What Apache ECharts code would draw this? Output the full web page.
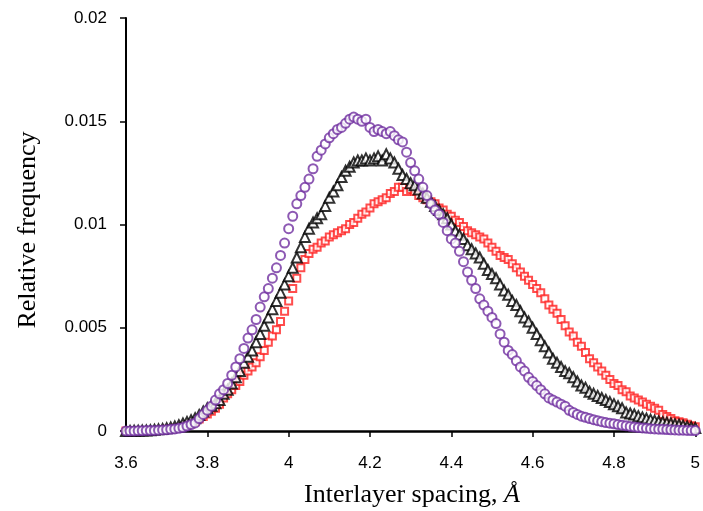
<!DOCTYPE html>
<html>
<head>
<meta charset="utf-8">
<script src="https://cdn.jsdelivr.net/npm/echarts@6/dist/echarts.min.js"></script>
<style>html,body{margin:0;padding:0;background:#fff}#c{width:703px;height:511px}</style>
</head>
<body>
<div id="c"></div>
<script>
// x positions: 3.60 .. 5.00, step 0.01
const xStart = 3.6, xStep = 0.01;
const xTicks = ['3.6','3.8','4','4.2','4.4','4.6','4.8','5'];
const yTicks = ['0','0.005','0.01','0.015','0.02'];

const redSeries = [
0,0,0,0.00001,0.00001,0.00002,0.00002,0.00003,0.00004,0.00006,
0.00008,0.0001,0.00013,0.00017,0.00022,0.00028,0.00035,0.00045,0.00058,0.0007,
0.00082,0.00096,0.0011,0.0013,0.0016,0.0018,0.0020,0.0022,0.0024,0.0027,
0.0029,0.0031,0.0033,0.0036,0.0039,0.0043,0.0046,0.0049,0.0053,0.0058,
0.0063,0.0069,0.0074,0.0079,0.0083,0.0086,0.0088,0.0089,0.0091,0.0092,
0.0094,0.0095,0.0096,0.0097,0.0098,0.0100,0.0101,0.0103,0.0105,0.0106,
0.0108,0.0110,0.0111,0.0112,0.0113,0.0115,0.0116,0.0118,0.0118,0.0116,
0.0117,0.0116,0.0114,0.0113,0.0112,0.0111,0.0110,0.0108,0.0107,0.0105,
0.0104,0.0102,0.0101,0.0099,0.0097,0.0096,0.0095,0.0094,0.0093,0.0091,
0.0089,0.0087,0.0085,0.0084,0.0083,0.0081,0.0079,0.0077,0.0075,0.0073,
0.0071,0.0069,0.0067,0.0064,0.0061,0.0059,0.0057,0.0054,0.0051,0.0048,
0.0046,0.0043,0.0041,0.0038,0.0035,0.0033,0.0031,0.0029,0.0027,0.0025,
0.0023,0.0022,0.0020,0.0019,0.0017,0.0016,0.0015,0.0014,0.0013,0.0012,
0.0011,0.0010,0.0008,0.0007,0.0006,0.0005,0.00045,0.0004,0.00033,0.00026,
0.0002
];

const blackSeries = [
0,0,0.00001,0.00001,0.00002,0.00003,0.00004,0.00006,0.00008,0.0001,
0.00013,0.00017,0.00022,0.00028,0.00036,0.00044,0.00052,0.00062,0.00078,0.00095,
0.0011,0.00122,0.00134,0.0015,0.0018,0.0020,0.0023,0.0026,0.0029,0.0033,
0.0036,0.0039,0.0043,0.0047,0.0051,0.0055,0.0059,0.0063,0.0067,0.0071,
0.0075,0.0079,0.0084,0.0089,0.0094,0.0098,0.0101,0.0103,0.0105,0.0109,
0.0113,0.0116,0.0119,0.0123,0.0126,0.0128,0.0130,0.0131,0.0131,0.0132,
0.0131,0.0132,0.0133,0.0131,0.0134,0.0132,0.0130,0.0127,0.0124,0.0122,
0.0120,0.0119,0.0117,0.0115,0.0113,0.0111,0.0109,0.0107,0.0105,0.0103,
0.0100,0.0097,0.0095,0.0093,0.0090,0.0088,0.0086,0.0084,0.0081,0.0078,
0.0076,0.0074,0.0071,0.0068,0.0066,0.0063,0.0061,0.0058,0.0055,0.0053,
0.0050,0.0047,0.0044,0.0041,0.0038,0.0035,0.0033,0.0031,0.0029,0.0028,
0.0026,0.0024,0.0022,0.0021,0.0019,0.0018,0.0017,0.0016,0.0015,0.0014,
0.0013,0.0012,0.0011,0.0009,0.00085,0.0008,0.00072,0.00066,0.0006,0.00055,
0.0005,0.00046,0.00043,0.0004,0.00036,0.00033,0.0003,0.00026,0.00022,0.00018,
0.00015
];

const purpleSeries = [
0,0,0,0.00001,0.00001,0.00002,0.00002,0.00003,0.00004,0.00005,
0.00006,0.00008,0.0001,0.00013,0.00017,0.00024,0.00031,0.00039,0.0006,0.0008,
0.0010,0.0012,0.0015,0.0018,0.0020,0.0023,0.0027,0.0031,0.0035,0.0040,
0.0045,0.0049,0.0054,0.0060,0.0065,0.0069,0.0074,0.0079,0.0085,0.0091,
0.0098,0.0104,0.0110,0.0114,0.0118,0.0122,0.0127,0.0133,0.0136,0.0139,
0.0142,0.0144,0.0146,0.0147,0.0149,0.0151,0.0152,0.0151,0.0150,0.0151,
0.0147,0.0145,0.0146,0.0145,0.0144,0.0145,0.0143,0.0141,0.0140,0.0135,
0.0130,0.0126,0.0122,0.0118,0.0114,0.0110,0.0107,0.0105,0.0101,0.0097,
0.0093,0.0091,0.0087,0.0082,0.0077,0.0073,0.0069,0.0064,0.0061,0.0058,
0.0055,0.0052,0.0047,0.0043,0.0039,0.0037,0.0034,0.0031,0.0029,0.0026,
0.0024,0.0022,0.0020,0.0018,0.0016,0.0015,0.0014,0.0013,0.0012,0.0010,
0.0009,0.0008,0.00072,0.00066,0.0006,0.00055,0.0005,0.00045,0.00041,0.00038,
0.00035,0.00031,0.00028,0.00025,0.00022,0.00019,0.00017,0.00015,0.00013,0.00011,
0.0001,0.00009,0.00008,0.00007,0.00006,0.00005,0.00004,0.00004,0.00003,0.00002,
0.00002
];

function pairs(vals){
  return vals.map((v,i)=>[+(xStart + i*xStep).toFixed(2), v]);
}

const chart = echarts.init(document.getElementById('c'), null, {renderer:'canvas'});
const labelFont = {fontFamily:'Liberation Sans, Arial, sans-serif', fontSize:17, color:'#000'};
const serif = 'Liberation Serif, Times New Roman, serif';
chart.setOption({
  animation:false,
  backgroundColor:'#fff',
  grid:{left:126, right:6, top:18, bottom:80, containLabel:false},
  xAxis:{
    type:'value', min:3.6, max:5, interval:0.2,
    axisLine:{show:true, onZero:false, lineStyle:{color:'#000', width:2.5}},
    axisTick:{show:true, inside:false, length:6, lineStyle:{color:'#000', width:1.5}},
    splitLine:{show:false},
    axisLabel:Object.assign({margin:24, formatter:(v)=>{const i=Math.round((v-3.6)/0.2); return xTicks[i]!==undefined?xTicks[i]:'';}}, labelFont)
  },
  yAxis:{
    type:'value', min:0, max:0.02, interval:0.005,
    axisLine:{show:true, lineStyle:{color:'#000', width:2}},
    axisTick:{show:true, inside:false, length:6, lineStyle:{color:'#000', width:1.5}},
    splitLine:{show:false},
    axisLabel:Object.assign({margin:19, formatter:(v)=>{const i=Math.round(v/0.005); return yTicks[i]!==undefined?yTicks[i]:'';}}, labelFont)
  },
  graphic:[
    {type:'text', x:412, y:495, style:{
      rich:{n:{fontFamily:serif, fontSize:26, fill:'#000'}, i:{fontFamily:serif, fontSize:26, fontStyle:'italic', fill:'#000'}},
      text:'{n|Interlayer spacing, }{i|Å}', align:'center', verticalAlign:'middle'}},
    {type:'text', x:28, y:230, rotation:Math.PI/2, style:{
      text:'Relative frequency', fontFamily:serif, fontSize:26, fill:'#000', align:'center', verticalAlign:'middle'}}
  ],
  series:[
    {type:'scatter', name:'red', data:pairs(redSeries), symbol:'emptyRect', symbolSize:7,
      itemStyle:{color:'#ff2020', borderColor:'#ff2020', borderWidth:1}, z:2},
    {type:'scatter', name:'black', data:pairs(blackSeries), symbol:'emptyTriangle', symbolSize:10,
      itemStyle:{color:'#000', borderColor:'#000', borderWidth:2}, z:3},
    {type:'scatter', name:'purple', data:pairs(purpleSeries), symbol:'emptyCircle', symbolSize:9,
      itemStyle:{color:'#7030a0', borderColor:'#7030a0', borderWidth:2.2}, z:4}
  ]
});
</script>
</body>
</html>
